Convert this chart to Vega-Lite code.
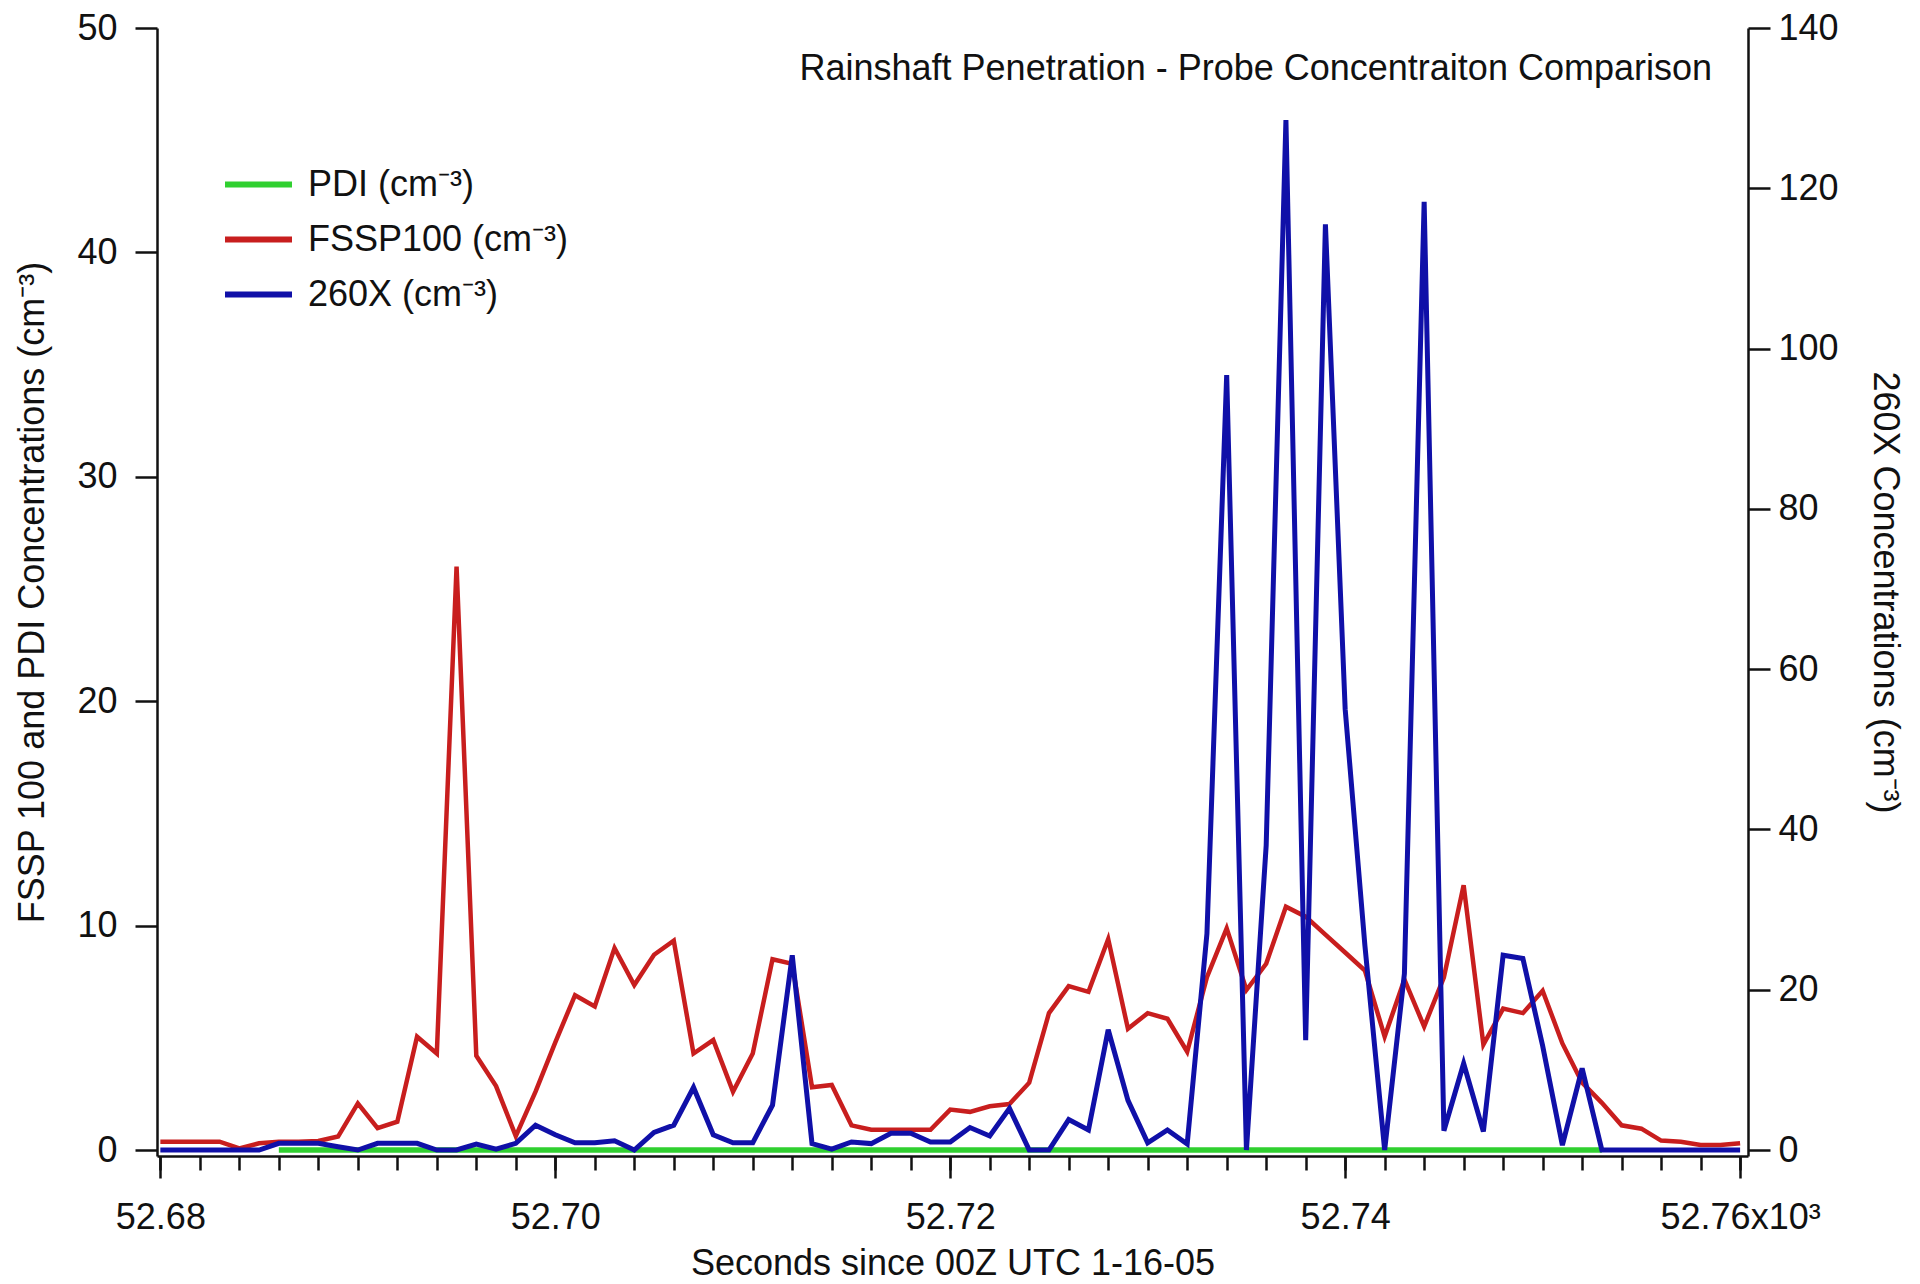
{
  "$schema": "https://vega.github.io/schema/vega-lite/v6.json",
  "autosize": {"type": "none"},
  "padding": {"left": 157, "top": 28, "right": 172, "bottom": 128},
  "width": 1591,
  "height": 1128,
  "background": "white",
  "config": {
    "view": {"stroke": null},
    "font": "Liberation Sans",
    "axis": {
      "grid": false,
      "domainColor": "#111",
      "domainWidth": 2.5,
      "tickColor": "#111",
      "tickWidth": 2.5,
      "labelFontSize": 36,
      "labelColor": "#111",
      "labelFont": "Liberation Sans",
      "titleFont": "Liberation Sans",
      "titleFontSize": 36,
      "titleFontWeight": "normal",
      "titleColor": "#111"
    }
  },
  "title": {
    "text": "Rainshaft Penetration - Probe Concentraiton Comparison",
    "anchor": "end",
    "orient": "top",
    "frame": "group",
    "font": "Liberation Sans",
    "fontSize": 36,
    "fontWeight": "normal",
    "color": "#111",
    "offset": 0,
    "dy": 78,
    "dx": -36
  },
  "data": {
    "values": [
      {"t": 52680, "fssp": 0.37, "x260": 0},
      {"t": 52681, "fssp": 0.37, "x260": 0},
      {"t": 52682, "fssp": 0.37, "x260": 0},
      {"t": 52683, "fssp": 0.37, "x260": 0},
      {"t": 52684, "fssp": 0.07, "x260": 0},
      {"t": 52685, "fssp": 0.3, "x260": 0},
      {"t": 52686, "fssp": 0.37, "x260": 0.83, "pdi": 0},
      {"t": 52687, "fssp": 0.37, "x260": 0.83, "pdi": 0},
      {"t": 52688, "fssp": 0.4, "x260": 0.83, "pdi": 0},
      {"t": 52689, "fssp": 0.6, "x260": 0.4, "pdi": 0},
      {"t": 52690, "fssp": 2.08, "x260": 0, "pdi": 0},
      {"t": 52691, "fssp": 0.97, "x260": 0.83, "pdi": 0},
      {"t": 52692, "fssp": 1.26, "x260": 0.83, "pdi": 0},
      {"t": 52693, "fssp": 5.05, "x260": 0.83, "pdi": 0},
      {"t": 52694, "fssp": 4.3, "x260": 0, "pdi": 0},
      {"t": 52695, "fssp": 26.0, "x260": 0, "pdi": 0},
      {"t": 52696, "fssp": 4.2, "x260": 0.75, "pdi": 0},
      {"t": 52697, "fssp": 2.85, "x260": 0.1, "pdi": 0},
      {"t": 52698, "fssp": 0.62, "x260": 0.83, "pdi": 0},
      {"t": 52699, "fssp": 2.6, "x260": 3.1, "pdi": 0},
      {"t": 52700, "fssp": 4.8, "x260": 1.9, "pdi": 0},
      {"t": 52701, "fssp": 6.9, "x260": 0.9, "pdi": 0},
      {"t": 52702, "fssp": 6.4, "x260": 0.9, "pdi": 0},
      {"t": 52703, "fssp": 9.0, "x260": 1.15, "pdi": 0},
      {"t": 52704, "fssp": 7.35, "x260": 0, "pdi": 0},
      {"t": 52705, "fssp": 8.7, "x260": 2.2, "pdi": 0},
      {"t": 52706, "fssp": 9.33, "x260": 3.1, "pdi": 0},
      {"t": 52707, "fssp": 4.3, "x260": 7.8, "pdi": 0},
      {"t": 52708, "fssp": 4.9, "x260": 1.9, "pdi": 0},
      {"t": 52709, "fssp": 2.6, "x260": 0.9, "pdi": 0},
      {"t": 52710, "fssp": 4.3, "x260": 0.9, "pdi": 0},
      {"t": 52711, "fssp": 8.5, "x260": 5.6, "pdi": 0},
      {"t": 52712, "fssp": 8.3, "x260": 24.3, "pdi": 0},
      {"t": 52713, "fssp": 2.8, "x260": 0.8, "pdi": 0},
      {"t": 52714, "fssp": 2.9, "x260": 0.1, "pdi": 0},
      {"t": 52715, "fssp": 1.1, "x260": 1.0, "pdi": 0},
      {"t": 52716, "fssp": 0.9, "x260": 0.8, "pdi": 0},
      {"t": 52717, "fssp": 0.9, "x260": 2.1, "pdi": 0},
      {"t": 52718, "fssp": 0.9, "x260": 2.1, "pdi": 0},
      {"t": 52719, "fssp": 0.9, "x260": 1.0, "pdi": 0},
      {"t": 52720, "fssp": 1.8, "x260": 1.0, "pdi": 0},
      {"t": 52721, "fssp": 1.7, "x260": 2.8, "pdi": 0},
      {"t": 52722, "fssp": 1.95, "x260": 1.75, "pdi": 0},
      {"t": 52723, "fssp": 2.05, "x260": 5.2, "pdi": 0},
      {"t": 52724, "fssp": 3.0, "x260": 0, "pdi": 0},
      {"t": 52725, "fssp": 6.1, "x260": 0, "pdi": 0},
      {"t": 52726, "fssp": 7.3, "x260": 3.8, "pdi": 0},
      {"t": 52727, "fssp": 7.05, "x260": 2.5, "pdi": 0},
      {"t": 52728, "fssp": 9.4, "x260": 15.0, "pdi": 0},
      {"t": 52729, "fssp": 5.4, "x260": 6.2, "pdi": 0},
      {"t": 52730, "fssp": 6.1, "x260": 0.9, "pdi": 0},
      {"t": 52731, "fssp": 5.85, "x260": 2.5, "pdi": 0},
      {"t": 52732, "fssp": 4.38, "x260": 0.75, "pdi": 0},
      {"t": 52733, "fssp": 7.7, "x260": 27, "pdi": 0},
      {"t": 52734, "fssp": 9.88, "x260": 96.7, "pdi": 0},
      {"t": 52735, "fssp": 7.13, "x260": 0, "pdi": 0},
      {"t": 52736, "fssp": 8.3, "x260": 38, "pdi": 0},
      {"t": 52737, "fssp": 10.84, "x260": 128.5, "pdi": 0},
      {"t": 52738, "fssp": 10.4, "x260": 13.7, "pdi": 0},
      {"t": 52739, "fssp": 9.6, "x260": 115.5, "pdi": 0},
      {"t": 52740, "fssp": 8.8, "x260": 55, "pdi": 0},
      {"t": 52741, "fssp": 8.0, "x260": 25.5, "pdi": 0},
      {"t": 52742, "fssp": 5.05, "x260": 0, "pdi": 0},
      {"t": 52743, "fssp": 7.6, "x260": 22, "pdi": 0},
      {"t": 52744, "fssp": 5.5, "x260": 118.3, "pdi": 0},
      {"t": 52745, "fssp": 7.7, "x260": 2.4, "pdi": 0},
      {"t": 52746, "fssp": 11.8, "x260": 10.8, "pdi": 0},
      {"t": 52747, "fssp": 4.7, "x260": 2.3, "pdi": 0},
      {"t": 52748, "fssp": 6.3, "x260": 24.3, "pdi": 0},
      {"t": 52749, "fssp": 6.1, "x260": 23.9, "pdi": 0},
      {"t": 52750, "fssp": 7.1, "x260": 13, "pdi": 0},
      {"t": 52751, "fssp": 4.75, "x260": 0.6, "pdi": 0},
      {"t": 52752, "fssp": 3.0, "x260": 10.2, "pdi": 0},
      {"t": 52753, "fssp": 2.1, "x260": 0, "pdi": 0},
      {"t": 52754, "fssp": 1.1, "x260": 0},
      {"t": 52755, "fssp": 0.95, "x260": 0},
      {"t": 52756, "fssp": 0.42, "x260": 0},
      {"t": 52757, "fssp": 0.37, "x260": 0},
      {"t": 52758, "fssp": 0.22, "x260": 0},
      {"t": 52759, "fssp": 0.22, "x260": 0},
      {"t": 52760, "fssp": 0.3, "x260": 0}
    ]
  },
  "resolve": {"scale": {"y": "independent"}, "axis": {"x": "independent", "y": "independent"}},
  "layer": [
    {
      "mark": {"type": "line", "strokeWidth": 5.5},
      "encoding": {
        "x": {
          "field": "t", "type": "quantitative",
          "scale": {"domain": [52679.83, 52760.4], "nice": false, "zero": false},
          "axis": {"orient": "bottom", "values": [52680,52682,52684,52686,52688,52690,52692,52694,52696,52698,52700,52702,52704,52706,52708,52710,52712,52714,52716,52718,52720,52722,52724,52726,52728,52730,52732,52734,52736,52738,52740,52742,52744,52746,52748,52750,52752,52754,52756,52758,52760], "tickSize": 14, "labels": false, "domain": false, "title": null}
        },
        "y": {
          "field": "pdi", "type": "quantitative",
          "scale": {"domain": [-0.267, 50], "nice": false, "zero": false},
          "axis": null
        },
        "color": {
          "datum": "PDI (cm⁻³)", "type": "nominal",
          "scale": {"domain": ["PDI (cm⁻³)", "FSSP100 (cm⁻³)", "260X (cm⁻³)"], "range": ["#30d030", "#c81e1e", "#1010a8"]},
          "legend": {
            "orient": "none", "legendX": 65, "legendY": 120, "title": null,
            "symbolType": "stroke", "symbolSize": 4489, "symbolStrokeWidth": 6,
            "labelFontSize": 36, "labelFont": "Liberation Sans", "labelColor": "#111",
            "labelLimit": 0, "labelOffset": 13, "rowPadding": -13, "padding": 0
          }
        }
      }
    },
    {
      "mark": {"type": "line", "strokeWidth": 4.5},
      "encoding": {
        "x": {"field": "t", "type": "quantitative", "axis": null},
        "y": {
          "field": "fssp", "type": "quantitative",
          "scale": {"domain": [-0.267, 50], "nice": false, "zero": false},
          "axis": {"orient": "left", "values": [0,10,20,30,40,50], "tickSize": 22, "labelPadding": 18, "title": "FSSP 100 and PDI Concentrations (cm⁻³)", "titlePadding": 25}
        },
        "color": {"datum": "FSSP100 (cm⁻³)", "type": "nominal"}
      }
    },
    {
      "mark": {"type": "line", "strokeWidth": 5},
      "encoding": {
        "x": {
          "field": "t", "type": "quantitative",
          "axis": {"orient": "bottom", "values": [52680, 52700, 52720, 52740, 52760], "tickSize": 22, "labelPadding": 22, "labelExpr": "datum.value == 52760 ? '52.76x10³' : format(datum.value / 1000, '.2f')", "title": "Seconds since 00Z UTC 1-16-05", "titlePadding": 11}
        },
        "y": {
          "field": "x260", "type": "quantitative",
          "scale": {"domain": [-0.748, 140], "nice": false, "zero": false},
          "axis": {"orient": "right", "values": [0,20,40,60,80,100,120,140], "tickSize": 22, "labelPadding": 8, "title": "260X Concentrations (cm⁻³)", "titlePadding": 27}
        },
        "color": {"datum": "260X (cm⁻³)", "type": "nominal"}
      }
    }
  ]
}
